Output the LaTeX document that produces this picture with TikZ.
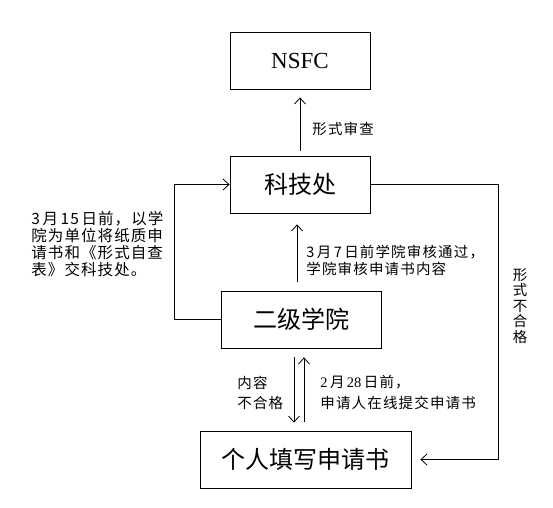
\documentclass[tikz,border=0pt]{standalone}
\usepackage{fontspec}
\setmainfont{Liberation Serif}
\newfontfamily\cjk{Noto Sans CJK SC}
\newfontfamily\cjkb[LetterSpace=8]{Noto Sans CJK SC}
\newfontfamily\cjkls[LetterSpace=7]{Noto Sans CJK SC}
\usetikzlibrary{arrows.meta}
\newcommand\sd[1]{{\rmfamily #1}}
\begin{document}
\begin{tikzpicture}[x=1pt,y=-1pt,line width=0.8pt,
  box/.style={draw,minimum height=57pt,inner sep=0pt,font=\cjk\fontsize{24}{24}\selectfont},
  arr/.style={-{Straight Barb[length=6pt,width=11pt]}},
  lbl/.style={inner sep=0pt,anchor=west,align=left,font=\cjkb\fontsize{14.5}{20.5}\selectfont}]
\useasboundingbox (0,0) rectangle (553,507);
\node[box,minimum width=140pt,font=\rmfamily\fontsize{23}{23}\selectfont] (nsfc) at (300,60.5) {NSFC};
\node[box,minimum width=140pt] (kjc) at (300,184.5) {科技处};
\node[box,minimum width=160pt] (ejxy) at (301,319.5) {二级学院};
\node[box,minimum width=211pt] (grt) at (305.5,459.5) {个人填写申请书};
\coordinate (L) at (174,0);
\coordinate (R) at (498,0);
% arrows
\draw[arr] ([yshift=5pt]kjc.north) -- ([yshift=-8pt]nsfc.south);
\draw[arr] ([xshift=-4pt,yshift=9pt]ejxy.north) -- ([xshift=-3pt,yshift=-11pt]kjc.south);
\draw[arr] ([xshift=-7pt,yshift=-9pt]ejxy.south) -- ([xshift=-11.5pt,yshift=8pt]grt.north);
\draw[arr] ([xshift=-1.5pt,yshift=9pt]grt.north) -- ([xshift=3pt,yshift=-9pt]ejxy.south);
\draw[arr] (ejxy.west) -- (ejxy.west -| L) |- (kjc.west);
\draw[arr] (kjc.east) -- (kjc.east -| R) |- ([xshift=9pt]grt.east);
% labels
\node[lbl] (t1) at (312,129) {形式审查};
\node[lbl,font=\cjkb\fontsize{14.5}{17}\selectfont] (t2) at (306,260) {3\,月\,7\,日前学院审核通过，\\学院审核申请书内容};
\node[lbl,font=\cjkls\fontsize{15.5}{17}\selectfont] (t3) at (31,244.5) {3\,月\,15\,日前，以学\\院为单位将纸质申\\请书和《形式自查\\表》交科技处。};
\node[lbl] (t4) at (237,393) {内容\\不合格};
\node[lbl] (t5) at (320,392.5) {\sd{2}\,月\,\sd{28}\,日前，\\申请人在线提交申请书};
\node[inner sep=0pt,align=center,font=\cjk\fontsize{14.5}{15.5}\selectfont] (t6) at (520,306) {形\\式\\不\\合\\格};
\end{tikzpicture}
\end{document}
